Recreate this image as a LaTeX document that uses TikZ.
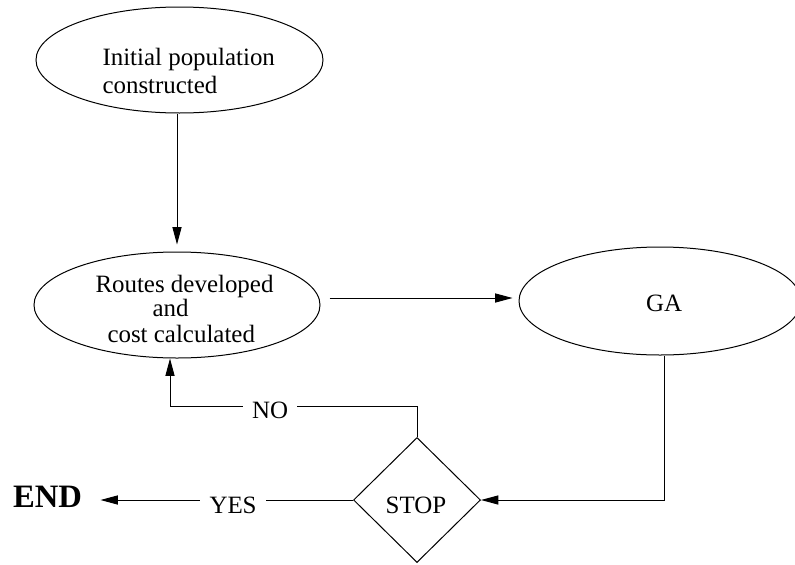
\documentclass[tikz,border=0pt]{standalone}
\usepackage{fontspec}
\setmainfont{Liberation Serif}
\usetikzlibrary{shapes.geometric,arrows.meta,calc}
\begin{document}
\begin{tikzpicture}[x=0.75pt,y=-0.75pt,
  line width=0.75pt,
  txt/.style={font=\fontsize{18.7pt}{22pt}\selectfont,inner sep=0pt},
  oval/.style={draw,ellipse,inner sep=0pt},
  arr/.style={-{Triangle[length=13pt,width=6.8pt]}},
  lbl/.style={txt,fill=white,inner xsep=7pt,inner ysep=2pt}]
\useasboundingbox (0,0) rectangle (795,564);
% ellipses
\node[oval,minimum width=215.25pt,minimum height=79.5pt] (e1) at (179.5,60) {};
\node[oval,minimum width=214.5pt,minimum height=79.5pt] (e2) at (177,305) {};
\node[oval,minimum width=211.5pt,minimum height=81pt] (ga) at (660,301) {};
\node[draw,diamond,minimum width=95.25pt,minimum height=93.75pt,inner sep=0pt] (stop) at (417,500) {};
% texts
\node[txt,anchor=base west] (t1a) at (102,65) {Initial population};
\node[txt,anchor=base west] (t1b) at (102,93) {constructed};
\node[txt,anchor=base west] (t2a) at (95,292) {Routes developed};
\node[txt,anchor=base west] (t2b) at (152,316) {and};
\node[txt,anchor=base west] (t2c) at (107,342) {cost calculated};
\node[txt,anchor=base] (tga) at (664,311) {GA};
\node[txt,anchor=base] (tstop) at (416,513) {STOP};
\node[font=\fontsize{24.5pt}{28pt}\selectfont\bfseries,inner ysep=0pt,inner xsep=13.5pt,anchor=base] (endn) at (47.5,507) {END};
% helper coordinates
\coordinate (hy) at (0,298);
\coordinate (noy) at (0,406);
\coordinate (yesy) at (0,500);
% connectors
\draw[arr] (e1.south -| e2.north) -- ([yshift=5.25pt]e2.north);
\draw[arr] ([xshift=6.75pt]e2.east |- hy) -- ([xshift=-4.5pt]ga.west |- hy);
\draw[arr] ([xshift=3pt]ga.south) |- (stop.east);
\draw[arr] (stop.north) -- (stop.north |- noy)
  -- node[lbl,pos=0.595,yshift=-3.4pt]{NO} ([xshift=-5.25pt]e2.south |- noy)
  -- ([xshift=-5.25pt]e2.south);
\draw[arr] (stop.west) -- node[lbl,pos=0.475,yshift=-4pt]{YES} (endn.east |- yesy);
\end{tikzpicture}
\end{document}
